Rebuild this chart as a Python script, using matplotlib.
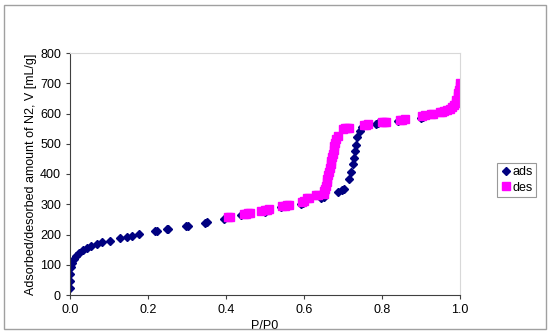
import matplotlib.pyplot as plt
from matplotlib.patches import Rectangle

plt.rcParams['font.family'] = ['Liberation Sans', 'DejaVu Sans']

# 吸附支 (ads)
ads_x = [0.0, 0.0, 0.0, 0.002, 0.005, 0.009, 0.015, 0.022, 0.034, 0.043, 0.054, 0.07, 0.083,
         0.103, 0.129, 0.145, 0.16, 0.178, 0.217, 0.222, 0.249, 0.252, 0.297, 0.302, 0.345, 0.352,
         0.394, 0.439, 0.5, 0.541, 0.592, 0.598, 0.643, 0.652, 0.686, 0.697, 0.702, 0.715, 0.72,
         0.725, 0.728, 0.731, 0.734, 0.737, 0.743, 0.749, 0.785, 0.79, 0.84, 0.845, 0.9, 0.905]
ads_y = [24, 47, 71, 92, 106, 118, 130, 138, 148, 154, 162, 169, 174,
         180, 187, 192, 195, 201, 210, 211, 217, 219, 228, 229, 239, 240,
         251, 263, 276, 290, 302, 305, 320, 323, 340, 347, 352, 382, 406,
         432, 453, 477, 497, 521, 541, 556, 566, 567, 576, 577, 586, 587]

# 脱附支 (des)
des_x = [1.0, 0.999, 0.998, 0.996, 0.994, 0.991, 0.989, 0.985, 0.98, 0.975, 0.966, 0.96, 0.955,
         0.948, 0.93, 0.926, 0.91, 0.903, 0.86, 0.852, 0.845, 0.81, 0.805, 0.8, 0.765, 0.76, 0.755,
         0.715, 0.71, 0.705, 0.7, 0.688, 0.683, 0.68, 0.678, 0.676, 0.674, 0.672, 0.67, 0.668,
         0.666, 0.664, 0.662, 0.66, 0.658, 0.656, 0.654, 0.652, 0.65, 0.637, 0.632, 0.612, 0.607,
         0.6, 0.596, 0.562, 0.556, 0.55, 0.544, 0.51, 0.505, 0.5, 0.49, 0.462, 0.457, 0.452, 0.447,
         0.41, 0.406]
des_y = [700, 690, 678, 667, 657, 646, 635, 628, 621, 616, 612, 609, 606,
         604, 598, 597, 594, 593, 582, 580, 579, 573, 572, 571, 564, 563, 562,
         553, 552, 551, 549, 527, 515, 503, 491, 479, 467, 456, 444, 432,
         420, 408, 396, 385, 373, 361, 352, 345, 334, 331, 330, 322, 320,
         312, 308, 299, 297, 295, 293, 283, 282, 281, 278, 271, 270, 269, 268,
         258, 257]

fig = plt.figure(figsize=(5.5, 3.34), dpi=100)
fig.patches.append(Rectangle((0.008, 0.015), 0.984, 0.97, transform=fig.transFigure,
                             fill=False, edgecolor='#a0a0a0', linewidth=1))
ax = fig.add_axes([70 / 550, 1 - 295 / 334, 390 / 550, 242 / 334])

ax.plot(ads_x, ads_y, linestyle='none', marker='D', markersize=4.2, color='#000080', label='ads')
ax.plot(des_x, des_y, linestyle='none', marker='s', markersize=5.5, color='#ff00ff', label='des')

ax.set_xlim(0, 1.0)
ax.set_ylim(0, 800)
ax.set_xticks([0, 0.2, 0.4, 0.6, 0.8, 1.0])
ax.set_xticklabels(['0.0', '0.2', '0.4', '0.6', '0.8', '1.0'])
ax.set_yticks(range(0, 801, 100))
ax.tick_params(labelsize=9, direction='out', length=3, color='#404040')
for s in ['top', 'right']:
    ax.spines[s].set_color('#d8d8d8')
for s in ['left', 'bottom']:
    ax.spines[s].set_color('#404040')
ax.set_xlabel('P/P0', fontsize=9, labelpad=3)
ax.set_ylabel('Adsorbed/desorbed amount of N2, V [mL/g]', fontsize=9, labelpad=2)

leg = ax.legend(loc='center left', bbox_to_anchor=(1.095, 0.475), fontsize=9, frameon=True,
                fancybox=False, handletextpad=0.1, handlelength=0.8, borderpad=0.3,
                labelspacing=0.25, borderaxespad=0)
leg.get_frame().set_edgecolor('#808080')
leg.get_frame().set_linewidth(0.8)

plt.savefig('out.png', dpi=100)
